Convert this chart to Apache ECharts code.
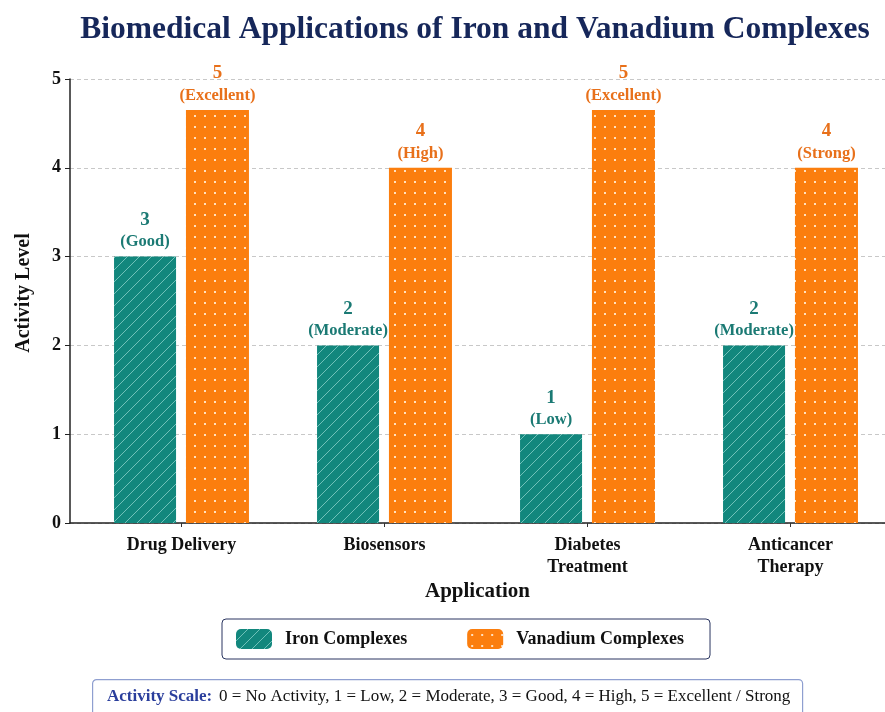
<!DOCTYPE html>
<html>
<head>
<meta charset="utf-8">
<script src="https://cdn.jsdelivr.net/npm/echarts@6/dist/echarts.min.js"></script>
<style>html,body{margin:0;padding:0;background:#fff}#main{width:885px;height:712px}</style>
</head>
<body>
<div id="main"></div>
<script>
var categories = ['Drug Delivery', 'Biosensors', 'Diabetes\nTreatment', 'Anticancer\nTherapy'];
var ironScore = [3, 2, 1, 2];
var ironWords = ['Good', 'Moderate', 'Low', 'Moderate'];
var vanadiumScore = [5, 4, 5, 4];
var vanadiumHeight = [4.65, 4, 4.65, 4];
var vanadiumWords = ['Excellent', 'High', 'Excellent', 'Strong'];
var yTicks = [0, 1, 2, 3, 4, 5];

var SERIF = '"Liberation Serif","DejaVu Serif",serif';
var TEAL = '#12877d';
var ORANGE = '#fb7e0e';

function hatch() {
  var c = document.createElement('canvas');
  c.width = 12; c.height = 12;
  var g = c.getContext('2d');
  g.fillStyle = TEAL; g.fillRect(0, 0, 12, 12);
  g.strokeStyle = 'rgba(190,240,235,0.55)'; g.lineWidth = 1;
  g.beginPath();
  g.moveTo(-1, 13); g.lineTo(13, -1);
  g.moveTo(-7, 7); g.lineTo(7, -7);
  g.moveTo(5, 19); g.lineTo(19, 5);
  g.stroke();
  return c;
}
function dots() {
  var c = document.createElement('canvas');
  c.width = 10; c.height = 11;
  var g = c.getContext('2d');
  g.fillStyle = ORANGE; g.fillRect(0, 0, 10, 11);
  g.fillStyle = 'rgba(255,235,210,0.9)';
  g.fillRect(4, 5, 2, 2);
  return c;
}
var ironFill = { image: hatch(), repeat: 'repeat' };
var vanFill = { image: dots(), repeat: 'repeat' };

var chart = echarts.init(document.getElementById('main'), null, { renderer: 'canvas' });
chart.setOption({
  backgroundColor: '#ffffff',
  animation: false,
  title: {
    text: 'Biomedical Applications of Iron and Vanadium Complexes',
    left: 470, top: 9, textAlign: 'center',
    textStyle: { fontFamily: SERIF, fontWeight: 'bold', fontSize: 31.5, color: '#16275a' }
  },
  legend: {
    left: 222, top: 619,
    padding: [10, 26, 10, 14], itemGap: 60,
    itemWidth: 36, itemHeight: 20,
    borderColor: '#2a3560', borderWidth: 1, borderRadius: 4,
    textStyle: { fontFamily: SERIF, fontWeight: 'bold', fontSize: 18, color: '#111', padding: [0, 0, 0, 8] },
    data: ['Iron Complexes', 'Vanadium Complexes']
  },
  grid: [
    { left: 80, right: -7, top: 79, bottom: 189, outerBoundsMode: 'none', containLabel: false },
    { left: 70, right: 0, top: 79, bottom: 189, outerBoundsMode: 'none', containLabel: false }
  ],
  xAxis: [
    {
      gridIndex: 0, type: 'category', data: categories,
      axisLine: { show: false },
      axisTick: { show: true, alignWithLabel: true, length: 4, lineStyle: { color: '#333' } },
      axisLabel: { fontFamily: SERIF, fontWeight: 'bold', fontSize: 18, color: '#111', margin: 11, lineHeight: 22 }
    },
    {
      gridIndex: 1, type: 'value', min: 0, max: 1,
      axisLine: { show: true, lineStyle: { color: '#222', width: 1.5 } },
      axisTick: { show: false }, axisLabel: { show: false }, splitLine: { show: false },
      name: 'Application', nameLocation: 'middle', nameGap: 58,
      nameTextStyle: { fontFamily: SERIF, fontWeight: 'bold', fontSize: 21, color: '#111' }
    }
  ],
  yAxis: [
    {
      gridIndex: 0, type: 'value', min: 0, max: 5, interval: 1,
      axisLine: { show: false }, axisTick: { show: false }, axisLabel: { show: false }, splitLine: { show: false }
    },
    {
      gridIndex: 1, type: 'value', min: 0, max: 5, interval: 1,
      axisLine: { show: true, lineStyle: { color: '#222', width: 1.5 } },
      axisTick: { show: true, length: 5, lineStyle: { color: '#222' } },
      axisLabel: {
        fontFamily: SERIF, fontWeight: 'bold', fontSize: 18, color: '#111', margin: 9,
        formatter: function (v) { return yTicks.indexOf(v) >= 0 ? String(v) : ''; }
      },
      splitLine: { show: true, lineStyle: { color: '#c8c8c8', type: [4, 3], width: 1 } },
      name: 'Activity Level', nameLocation: 'middle', nameGap: 36, nameRotate: 90,
      nameTextStyle: { fontFamily: SERIF, fontWeight: 'bold', fontSize: 20, color: '#111', padding: [0, 0, 0, 16] }
    }
  ],
  series: [
    {
      name: 'Iron Complexes', type: 'bar', xAxisIndex: 0, yAxisIndex: 0,
      data: ironScore, barWidth: 62, barGap: '16%',
      itemStyle: { color: ironFill },
      label: {
        show: true, position: 'top', distance: 4,
        formatter: function (p) { return '{a|' + ironScore[p.dataIndex] + '}\n{b|(' + ironWords[p.dataIndex] + ')}'; },
        rich: {
          a: { fontFamily: SERIF, fontWeight: 'bold', fontSize: 19, color: '#1b7a74', lineHeight: 23, align: 'center' },
          b: { fontFamily: SERIF, fontWeight: 'bold', fontSize: 16.5, color: '#1b7a74', lineHeight: 21, align: 'center' }
        }
      }
    },
    {
      name: 'Vanadium Complexes', type: 'bar', xAxisIndex: 0, yAxisIndex: 0,
      data: vanadiumHeight, barWidth: 63,
      itemStyle: { color: vanFill },
      label: {
        show: true, position: 'top', distance: 4,
        formatter: function (p) { return '{a|' + vanadiumScore[p.dataIndex] + '}\n{b|(' + vanadiumWords[p.dataIndex] + ')}'; },
        rich: {
          a: { fontFamily: SERIF, fontWeight: 'bold', fontSize: 19, color: '#e8701a', lineHeight: 23, align: 'center' },
          b: { fontFamily: SERIF, fontWeight: 'bold', fontSize: 16.5, color: '#e8701a', lineHeight: 21, align: 'center' }
        }
      }
    }
  ],
  graphic: [
    {
      type: 'rect', left: 92, top: 679, z: 10,
      shape: { width: 710, height: 45, r: 4 },
      style: { fill: '#ffffff', stroke: '#8f9fd0', lineWidth: 1.2 }
    },
    {
      type: 'text', left: 107, top: 688, z: 11,
      style: {
        text: '{h|Activity Scale:}  {t|0 = No Activity, 1 = Low, 2 = Moderate, 3 = Good, 4 = High, 5 = Excellent / Strong}',
        rich: {
          h: { fontFamily: SERIF, fontWeight: 'bold', fontSize: 17, fill: '#2a3e9c' },
          t: { fontFamily: SERIF, fontSize: 17, fill: '#111' }
        }
      }
    }
  ]
});
</script>
</body>
</html>
